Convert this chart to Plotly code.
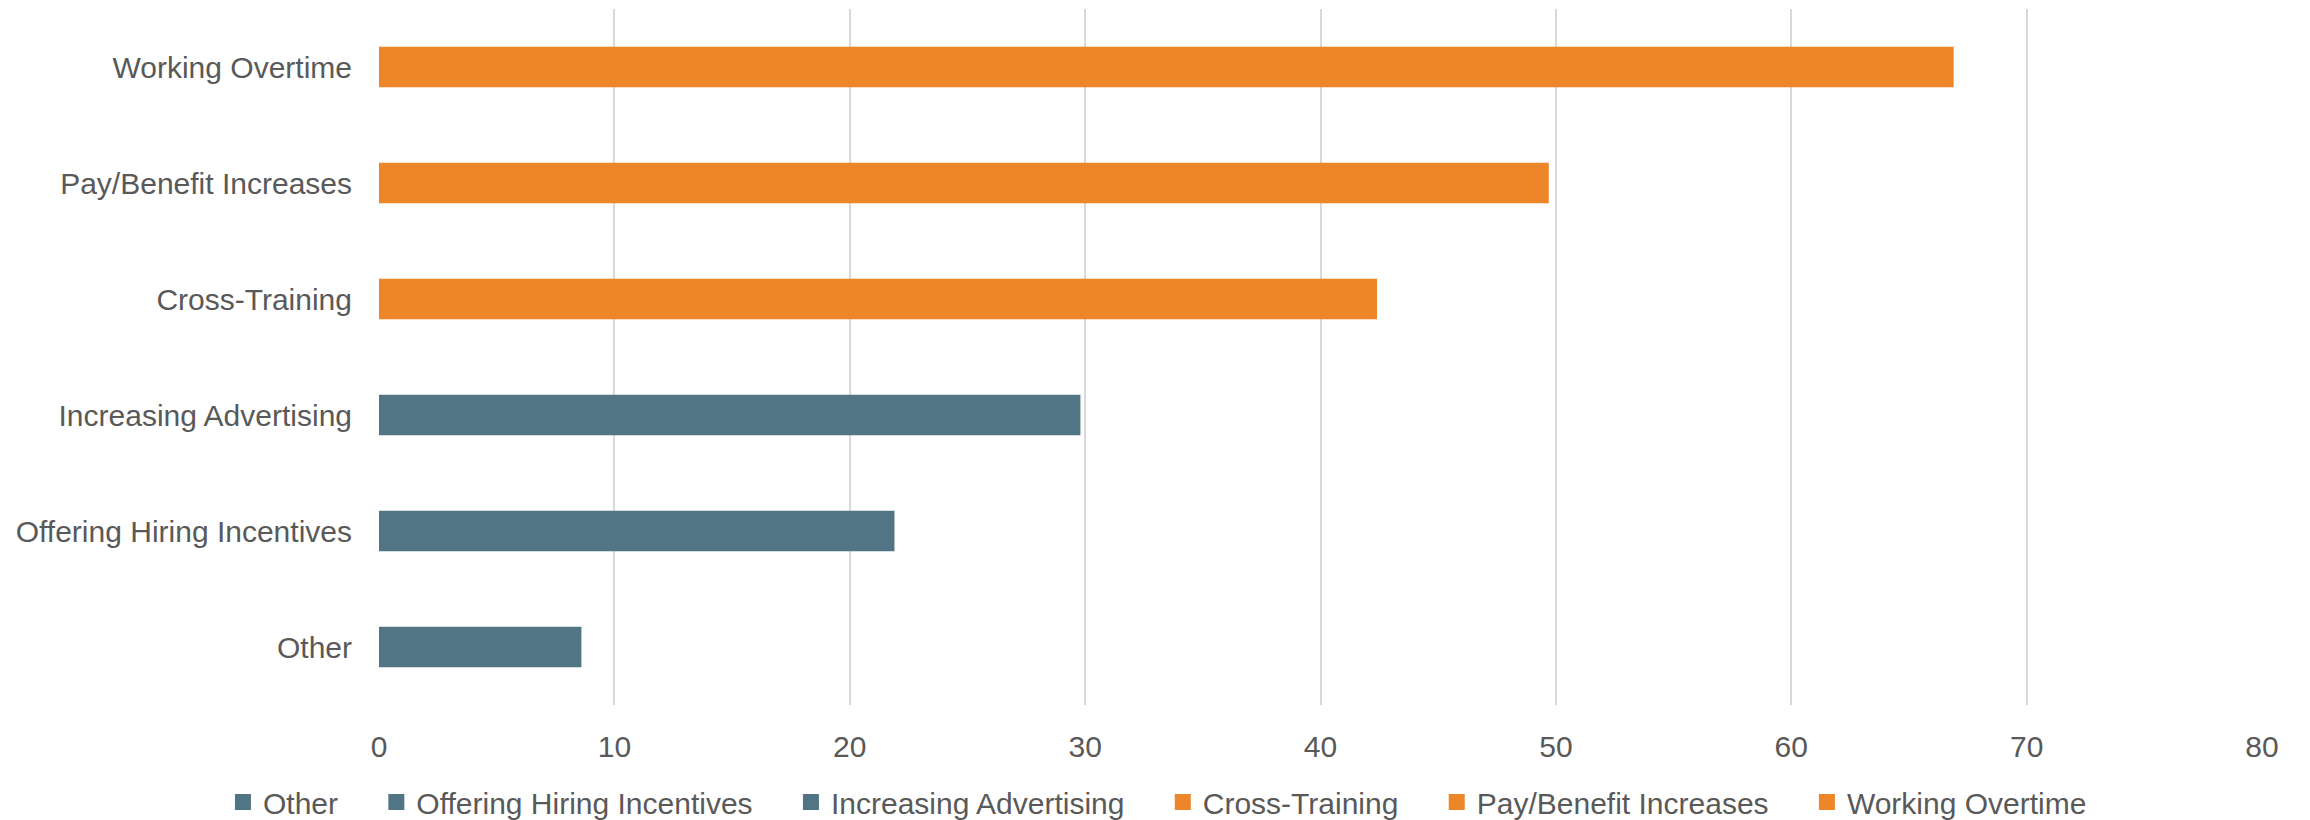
import plotly.graph_objects as go

# categories listed bottom to top, same order as the legend
categories = ["Other", "Offering Hiring Incentives", "Increasing Advertising",
              "Cross-Training", "Pay/Benefit Increases", "Working Overtime"]
values = [8.6, 21.9, 29.8, 42.4, 49.7, 66.9]
bar_colors = ["#527585", "#527585", "#527585", "#ED8529", "#ED8529", "#ED8529"]
x_ticks = [0, 10, 20, 30, 40, 50, 60, 70, 80]

text_color = "#595959"
font_name = "Liberation Sans"
pad = "\u00a0" * 4  # extra room between legend entries

fig = go.Figure()

for name, val, col in zip(categories, values, bar_colors):
    fig.add_trace(go.Bar(
        y=[name], x=[val], orientation="h", name=name,
        marker=dict(color=col, line=dict(width=0)),
        width=0.35, showlegend=False,
    ))

# legend swatches only
for i, (name, col) in enumerate(zip(categories, bar_colors)):
    label = name if i == len(categories) - 1 else name + pad
    fig.add_trace(go.Scatter(
        x=[None], y=[None], mode="markers", name=label,
        marker=dict(symbol="square", size=16, color=col),
    ))

# page adds ~8px body margin, so margins are shifted by 8px
fig.update_layout(
    width=2310, height=820,
    margin=dict(l=371, r=56, t=1, b=123, autoexpand=False),
    plot_bgcolor="white", paper_bgcolor="white",
    barmode="overlay",
    font=dict(family=font_name, size=30, color=text_color),
    legend=dict(
        orientation="h", xref="container", yref="container",
        x=0.4976, xanchor="center", y=0.0, yanchor="bottom",
        font=dict(size=30, color=text_color),
        itemwidth=30, tracegroupgap=0,
    ),
)

fig.update_xaxes(
    range=[0, 80], tickvals=x_ticks, automargin=False,
    showgrid=True, gridcolor="#d9d9d9", gridwidth=2,
    zeroline=False, showline=False, ticks="",
    ticklabelstandoff=21,
)
fig.update_yaxes(
    type="category", categoryorder="array", categoryarray=categories,
    automargin=False,
    showgrid=False, zeroline=False, showline=False, ticks="",
    ticklabelstandoff=26,
)

fig.write_html("out.html")
